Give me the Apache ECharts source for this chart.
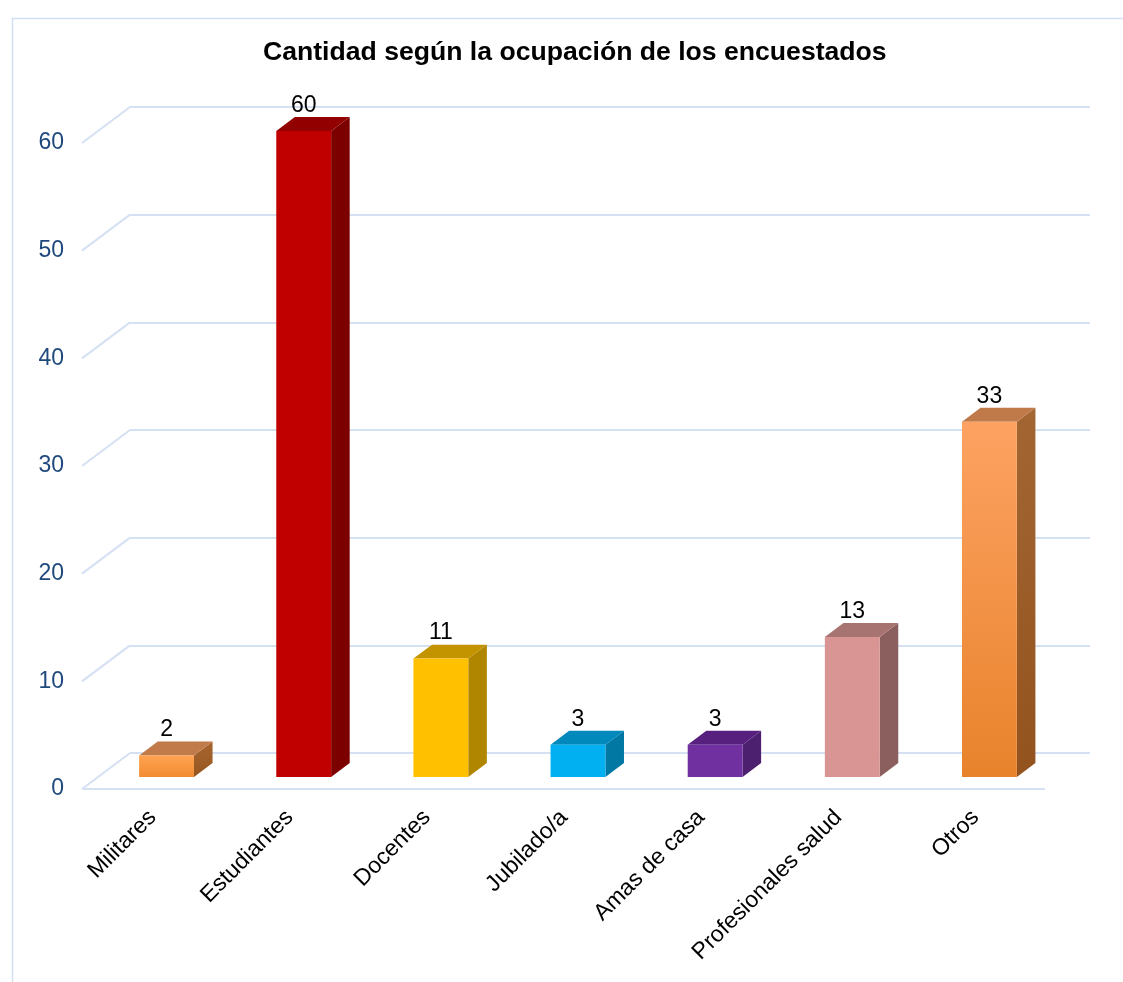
<!DOCTYPE html>
<html>
<head>
<meta charset="utf-8">
<script src="https://cdn.jsdelivr.net/npm/echarts@6/dist/echarts.min.js"></script>
<style>
  html, body { margin: 0; padding: 0; background: #ffffff; }
  #chart { width: 1123px; height: 982px; }
</style>
</head>
<body>
<div id="chart"></div>
<script>
// Survey respondents by occupation
const categories = ['Militares', 'Estudiantes', 'Docentes', 'Jubilado/a', 'Amas de casa', 'Profesionales salud', 'Otros'];
const counts = [2, 60, 11, 3, 3, 13, 33];
const yTicks = [0, 10, 20, 30, 40, 50, 60];

// Face colours for each box: front (top→bottom), top, side (top→bottom)
const faceColors = [
  { front: ['#FFA352', '#F28B31'], top: '#C17B4A', side: ['#A8652F', '#96551F'] },
  { front: ['#C00000', '#C00000'], top: '#920000', side: ['#7D0000', '#7D0000'] },
  { front: ['#FFC000', '#FFC000'], top: '#C49300', side: ['#B08500', '#B08500'] },
  { front: ['#00B0F0', '#00B0F0'], top: '#0089BA', side: ['#0078A3', '#0078A3'] },
  { front: ['#7030A0', '#7030A0'], top: '#57207F', side: ['#4D1F6F', '#4D1F6F'] },
  { front: ['#D99594', '#D99594'], top: '#A87471', side: ['#8B5F5E', '#8B5F5E'] },
  { front: ['#FDA262', '#E8832C'], top: '#C07A4A', side: ['#A36633', '#93531E'] }
];

const GRID_COLOR = '#D5E0F3';
const AXIS_TEXT = '#1F497D';
const FONT = '"Liberation Sans", Arial, sans-serif';

// Offset from the back wall to the front edge of the floor (3D perspective)
const DEPTH = [-48, 36];
const NEAR = 0.667;   // depth fraction of the bar's front face
const FAR = 0.28;     // depth fraction of the bar's back face
const BAR_RATIO = 0.4;

function vGrad(colors) {
  return new echarts.graphic.LinearGradient(0, 0, 0, 1, [
    { offset: 0, color: colors[0] },
    { offset: 1, color: colors[1] }
  ]);
}

function renderBar(params, api) {
  const i = api.value(0);
  const v = api.value(1);
  const base = api.coord([i, 0]);
  const top = api.coord([i, v]);
  const w = api.size([1, 0])[0] * BAR_RATIO;
  const fx = DEPTH[0] * NEAR, fy = DEPTH[1] * NEAR;
  const sx = DEPTH[0] * (FAR - NEAR), sy = DEPTH[1] * (FAR - NEAR);
  const xl = base[0] - w / 2 + fx, xr = base[0] + w / 2 + fx;
  const yt = top[1] + fy, yb = base[1] + fy;
  const c = faceColors[i];
  return {
    type: 'group',
    children: [
      { type: 'polygon', shape: { points: [[xr, yt], [xr + sx, yt + sy], [xr + sx, yb + sy], [xr, yb]] },
        style: { fill: vGrad(c.side) } },
      { type: 'polygon', shape: { points: [[xl, yt], [xl + sx, yt + sy], [xr + sx, yt + sy], [xr, yt]] },
        style: { fill: c.top } },
      { type: 'rect', shape: { x: xl, y: yt, width: w, height: yb - yt },
        style: { fill: vGrad(c.front) } },
      { type: 'text',
        style: { text: String(v), x: (xl + xr) / 2, y: yt + sy, align: 'center', verticalAlign: 'bottom',
                 fill: '#000000', fontSize: 23, fontFamily: FONT } }
    ]
  };
}

// Diagonal floor/wall joins for each gridline
function renderDiag(params, api) {
  const y = api.coord([0, api.value(1)])[1];
  const x0 = params.coordSys.x;
  return {
    type: 'line',
    shape: { x1: x0, y1: y, x2: x0 + DEPTH[0], y2: y + DEPTH[1] },
    style: { stroke: GRID_COLOR, lineWidth: 2 }
  };
}

const chart = echarts.init(document.getElementById('chart'), null, { renderer: 'canvas' });

chart.setOption({
  backgroundColor: '#ffffff',
  animation: false,
  title: {
    text: 'Cantidad según la ocupación de los encuestados',
    left: 258,
    top: 34,
    textStyle: { color: '#000000', fontSize: 26.6, fontWeight: 'bold', fontFamily: FONT }
  },
  graphic: [
    { type: 'rect', left: 10, top: 16, shape: { width: 1200, height: 1000 },
      style: { fill: 'none', stroke: '#D3DFF2', lineWidth: 1.5 }, z: -1 }
  ],
  grid: [
    // back wall
    { left: 130, right: 33, top: 107, bottom: 229 },
    // front plane
    { left: 84, right: 79, top: 143, bottom: 193 }
  ],
  xAxis: [
    { gridIndex: 0, type: 'category', data: categories, show: false },
    { gridIndex: 1, type: 'category', data: categories,
      axisLine: { show: true, lineStyle: { color: GRID_COLOR, width: 2 } },
      axisTick: { show: false },
      axisLabel: { rotate: 45, margin: 25, color: '#000000', fontSize: 23, fontFamily: FONT, interval: 0 } }
  ],
  yAxis: [
    { gridIndex: 0, type: 'value', min: 0, max: 60, interval: 10,
      axisLine: { show: false }, axisTick: { show: false }, axisLabel: { show: false },
      splitLine: { show: true, lineStyle: { color: GRID_COLOR, width: 2 } } },
    { gridIndex: 1, type: 'value', min: 0, max: 60, interval: 10,
      axisLine: { show: false }, axisTick: { show: false }, splitLine: { show: false },
      axisLabel: { margin: 20, color: AXIS_TEXT, fontSize: 23, fontFamily: FONT } }
  ],
  series: [
    { type: 'custom', xAxisIndex: 0, yAxisIndex: 0, renderItem: renderDiag, silent: true, z: 1,
      data: yTicks.map(t => [0, t]), encode: { x: 0, y: 1 } },
    { type: 'custom', xAxisIndex: 0, yAxisIndex: 0, renderItem: renderBar, z: 5,
      data: counts.map((v, i) => [i, v]), encode: { x: 0, y: 1 } }
  ]
});
</script>
</body>
</html>
